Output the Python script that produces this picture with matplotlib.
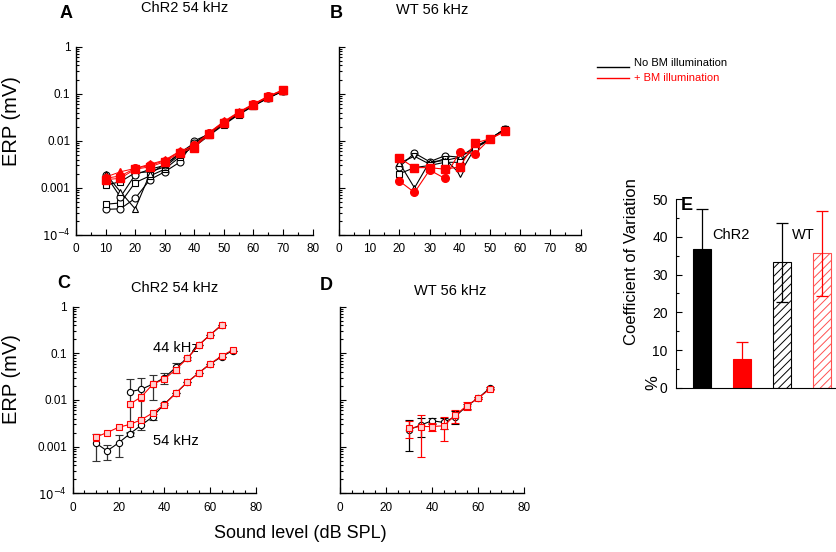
import matplotlib
matplotlib.use("Agg")
import matplotlib.pyplot as plt
import numpy as np
from matplotlib.ticker import FixedLocator, FixedFormatter, LogLocator, MultipleLocator, NullFormatter
from matplotlib.lines import Line2D

plt.rcParams['font.family'] = ['Liberation Sans', 'DejaVu Sans']
plt.rcParams['hatch.linewidth'] = 0.7

# ---------------- data ----------------
levels_A = [10, 15, 20, 25, 30, 35, 40, 45, 50, 55, 60, 65, 70]
a_blk_circ1 = [0.00035, 0.00036, 0.0006, 0.0015, 0.0022, 0.0035, 0.0100, 0.0140, 0.024, 0.038, 0.058, 0.083, 0.115]
a_blk_sq1 = [0.00045, 0.00048, 0.0013, 0.0018, 0.0025, 0.0045, 0.0080, 0.0135, 0.023, 0.037, 0.056, 0.082, 0.116]
a_blk_sq2 = [0.00115, 0.00135, 0.0021, 0.0022, 0.0028, 0.0050, 0.0075, 0.0130, 0.022, 0.036, 0.055, 0.081, 0.114]
a_blk_circ2 = [0.0019, 0.00064, 0.0019, 0.0025, 0.0030, 0.0055, 0.0090, 0.0145, 0.025, 0.039, 0.059, 0.085, 0.118]
a_blk_tri = [0.0020, 0.00083, 0.00036, 0.0020, 0.0032, 0.0052, 0.0085, 0.0140, 0.024, 0.038, 0.057, 0.084, 0.117]
a_red_circ = [0.0016, 0.0018, 0.0026, 0.0030, 0.0038, 0.0058, 0.0080, 0.015, 0.025, 0.040, 0.060, 0.088, 0.120]
a_red_sq = [0.0015, 0.0016, 0.0025, 0.0028, 0.0036, 0.0055, 0.0072, 0.014, 0.024, 0.039, 0.058, 0.086, 0.118]
a_red_tri = [0.0017, 0.0022, 0.0026, 0.0032, 0.0039, 0.0060, 0.0078, 0.015, 0.026, 0.041, 0.061, 0.089, 0.122]

levels_B = [20, 25, 30, 35, 40, 45, 50, 55]
b_blk_circ = [0.0028, 0.0055, 0.0036, 0.0048, 0.0045, 0.0070, 0.0110, 0.018]
b_blk_dtri = [0.0034, 0.0047, 0.0032, 0.0042, 0.0020, 0.0070, 0.0105, 0.018]
b_blk_utri = [0.0034, 0.0010, 0.0036, 0.0038, 0.0045, 0.0075, 0.0110, 0.018]
b_blk_sq = [0.0020, 0.0027, 0.0030, 0.0035, 0.0035, 0.0072, 0.0110, 0.018]
b_red_sq = [0.0043, 0.0027, 0.0027, 0.0025, 0.0028, 0.0090, 0.0110, 0.016]
b_red_circ = [0.0014, 0.0008, 0.0024, 0.0016, 0.0059, 0.0053, 0.0110, 0.016]

levels_C54 = [10, 15, 20, 25, 30, 35, 40, 45, 50, 55, 60, 65, 70]
c54_blk = [0.0012, 0.00081, 0.0012, 0.0019, 0.0029, 0.0044, 0.0082, 0.014, 0.024, 0.038, 0.059, 0.085, 0.115]
c54_blk_err = [0.0007, 0.0003, 0.0006, 0.0002, 0.0006, 0.0006, 0.0005, 0, 0, 0, 0, 0, 0]
c54_red = [0.0016, 0.0020, 0.0026, 0.0030, 0.0038, 0.0053, 0.0080, 0.014, 0.024, 0.038, 0.060, 0.088, 0.120]
c54_red_err = [0.0003, 0.0001, 0.0001, 0.0002, 0.0002, 0.0003, 0.0004, 0, 0, 0, 0, 0, 0]
levels_C44 = [25, 30, 35, 40, 45, 50, 55, 60, 65]
c44_blk = [0.015, 0.017, 0.022, 0.030, 0.050, 0.078, 0.150, 0.250, 0.400]
c44_blk_err = [0.013, 0.013, 0.012, 0.008, 0.012, 0.005, 0, 0, 0]
c44_red = [0.0082, 0.0117, 0.022, 0.028, 0.045, 0.078, 0.150, 0.250, 0.410]
c44_red_err = [0.001, 0.002, 0.003, 0.003, 0.004, 0.004, 0, 0, 0]

levels_D = [30, 35, 40, 45, 50, 55, 60, 65]
d_blk = [0.0023, 0.0029, 0.0036, 0.0033, 0.0044, 0.0074, 0.011, 0.018]
d_blk_err = [0.0015, 0.0013, 0.0006, 0.0009, 0.0013, 0.0010, 0.0004, 0.0008]
d_red = [0.0025, 0.0027, 0.0027, 0.0028, 0.0047, 0.0075, 0.011, 0.017]
d_red_err = [0.0010, 0.0021, 0.0005, 0.0015, 0.0015, 0.0014, 0.0005, 0.0005]

e_groups = ['ChR2 no BM', 'ChR2 + BM', 'WT no BM', 'WT + BM']
e_means = [36.7, 7.7, 33.3, 35.7]
e_err = [10.6, 4.3, 10.5, 11.3]

ytick_vals = [1e-4, 1e-3, 1e-2, 1e-1, 1]
ytick_labels = ['$10^{-4}$', '0.001', '0.01', '0.1', '1']

W, H = 837, 552
fig = plt.figure(figsize=(W / 100, H / 100), dpi=100)


def px_axes(l, t, r, b):
    return fig.add_axes([l / W, 1 - b / H, (r - l) / W, (b - t) / H])


def style_log(ax, xmax=80, xmajor=10, xminor=5, show_ylabels=True, narrow=False):
    ax.set_yscale('log')
    ax.set_ylim(1e-4, 1)
    ax.set_xlim(0, xmax)
    for s in ['top', 'right']:
        ax.spines[s].set_visible(False)
    for s in ['left', 'bottom']:
        ax.spines[s].set_linewidth(1.0)
    ax.yaxis.set_major_locator(FixedLocator(ytick_vals))
    if show_ylabels:
        ax.yaxis.set_major_formatter(FixedFormatter(ytick_labels))
    else:
        ax.yaxis.set_major_formatter(NullFormatter())
    ax.yaxis.set_minor_locator(LogLocator(base=10, subs=np.arange(2, 10)))
    ax.yaxis.set_minor_formatter(NullFormatter())
    ax.xaxis.set_major_locator(MultipleLocator(xmajor))
    ax.xaxis.set_minor_locator(MultipleLocator(xminor))
    ax.tick_params(which='both', direction='in', width=0.8)
    ax.tick_params(which='major', length=4, labelsize=8.5)
    ax.tick_params(axis='x', which='major', pad=6)
    ax.tick_params(axis='y', which='major', pad=4)
    ax.tick_params(which='minor', length=2)
    if narrow:
        for lab in ax.get_xticklabels() + ax.get_yticklabels():
            lab.set_fontfamily(['Liberation Sans Narrow', 'Liberation Sans'])


# ---------------- Panel A ----------------
axA = px_axes(76, 46.7, 312.6, 235)
style_log(axA)
blkA = [(a_blk_circ1, 'o'), (a_blk_sq1, 's'), (a_blk_sq2, 's'), (a_blk_circ2, 'o'), (a_blk_tri, '^')]
for vals, m in blkA:
    axA.plot(levels_A, vals, color='black', lw=0.8, marker=m, ms=5, mfc='white', mec='black', mew=0.8, zorder=2)
redA = [(a_red_sq, 's'), (a_red_tri, '^'), (a_red_circ, 'o')]
for vals, m in redA:
    axA.plot(levels_A, vals, color='red', lw=0.7, marker=m, ms=5.5, mfc='red', mec='red', zorder=3)

# ---------------- Panel B ----------------
axB = px_axes(339, 46.7, 580.6, 235)
style_log(axB, show_ylabels=False)
blkB = [(b_blk_circ, 'o'), (b_blk_dtri, 'v'), (b_blk_utri, '^'), (b_blk_sq, 's')]
for vals, m in blkB:
    axB.plot(levels_B, vals, color='black', lw=0.8, marker=m, ms=5, mfc='white', mec='black', mew=0.8, zorder=2)
redB = [(b_red_sq, 's'), (b_red_circ, 'o')]
for vals, m in redB:
    axB.plot(levels_B, vals, color='red', lw=0.8, marker=m, ms=5.5, mfc='red', mec='red', zorder=3)

# ---------------- Panel C ----------------
axC = px_axes(72.7, 306.7, 256, 493.3)
style_log(axC, xmajor=20, xminor=5, narrow=True)
axC.errorbar(levels_C54, c54_blk, yerr=c54_blk_err, color='black', lw=0.8, marker='o', ms=4.5,
             mfc='white', mec='black', mew=0.8, elinewidth=0.9, capsize=3, ecolor='#333333', zorder=2)
axC.errorbar(levels_C54, c54_red, yerr=c54_red_err, color='red', lw=0.8, marker='s', ms=4,
             mfc='#ffd0d0', mec='red', mew=0.8, elinewidth=0.8, capsize=2.5, zorder=3)
axC.errorbar(levels_C44, c44_blk, yerr=c44_blk_err, color='black', lw=0.8, marker='o', ms=4.5,
             mfc='white', mec='black', mew=0.8, elinewidth=0.9, capsize=3, ecolor='#333333', zorder=2)
axC.errorbar(levels_C44, c44_red, yerr=c44_red_err, color='red', lw=0.8, marker='s', ms=4,
             mfc='#ffd0d0', mec='red', mew=0.8, elinewidth=0.8, capsize=2.5, zorder=3)
axC.text(45, 0.13, '44 kHz', ha='center', va='center', fontsize=10.5)
axC.text(45, 0.0013, '54 kHz', ha='center', va='center', fontsize=10.5)

# ---------------- Panel D ----------------
axD = px_axes(340, 306.7, 524.3, 493.3)
style_log(axD, xmajor=20, xminor=5, show_ylabels=False, narrow=True)
axD.errorbar(levels_D, d_blk, yerr=d_blk_err, color='black', lw=0.8, marker='o', ms=4.5,
             mfc='white', mec='black', mew=0.8, elinewidth=0.9, capsize=3, zorder=2)
axD.errorbar(levels_D, d_red, yerr=d_red_err, color='red', lw=0.8, marker='s', ms=4,
             mfc='#ffd0d0', mec='red', mew=0.8, elinewidth=0.9, capsize=3, zorder=3)

# ---------------- Panel E ----------------
axE = px_axes(676, 199.3, 835, 387.7)
xE = np.arange(1, 5)
faces = ['black', 'red', 'white', 'white']
edges = ['black', 'red', 'black', '#ff5050']
hatches = [None, None, '////', '////']
errc = ['black', 'red', 'black', 'red']
for x, m, e, fc, ec, h, c in zip(xE, e_means, e_err, faces, edges, hatches, errc):
    axE.bar(x, m, width=0.46, color=fc, edgecolor=ec, hatch=h, linewidth=0.8, zorder=2)
    axE.errorbar(x, m, yerr=e, color=c, elinewidth=0.9, capsize=4, capthick=0.9, fmt='none', zorder=3)
axE.set_xlim(0.34, 4.33)
axE.set_ylim(0, 50)
for s in ['top', 'right']:
    axE.spines[s].set_visible(False)
axE.set_xticks([])
axE.yaxis.set_major_locator(MultipleLocator(10))
axE.yaxis.set_minor_locator(MultipleLocator(5))
axE.tick_params(axis='y', which='both', direction='in', width=0.8)
axE.tick_params(axis='y', which='major', length=4, labelsize=10, pad=6)
axE.tick_params(axis='y', which='minor', length=2)
axE.text(1.25, 40.5, 'ChR2', fontsize=10.5, ha='left', va='center')
axE.text(3.25, 40.5, 'WT', fontsize=10.5, ha='left', va='center')

# ---------------- figure texts ----------------
def ftext(x, y, s, **kw):
    fig.text(x / W, 1 - y / H, s, **kw)

ftext(66, 13, 'A', fontsize=13, fontweight='bold', ha='center', va='center')
ftext(185, 8, 'ChR2 54 kHz', fontsize=10.5, ha='center', va='center')
ftext(336, 14, 'B', fontsize=13, fontweight='bold', ha='center', va='center')
ftext(432, 10, 'WT 56 kHz', fontsize=10.5, ha='center', va='center')
ftext(64, 284, 'C', fontsize=13, fontweight='bold', ha='center', va='center')
ftext(175, 288, 'ChR2 54 kHz', fontsize=10.5, ha='center', va='center')
ftext(326, 286, 'D', fontsize=13, fontweight='bold', ha='center', va='center')
ftext(450, 291, 'WT 56 kHz', fontsize=10.5, ha='center', va='center')
ftext(687, 205, 'E', fontsize=13, fontweight='bold', ha='center', va='center')

ftext(12, 121, 'ERP (mV)', fontsize=14.5, rotation=90, ha='center', va='center')
ftext(12, 379, 'ERP (mV)', fontsize=14.5, rotation=90, ha='center', va='center')
ftext(300, 533, 'Sound level (dB SPL)', fontsize=13, ha='center', va='center')
ftext(632, 262, 'Coefficient of Variation', fontsize=12, rotation=90, ha='center', va='center')
ftext(653, 383, '%', fontsize=12, rotation=90, ha='center', va='center')

# legend
fig.add_artist(Line2D([597 / W, 629 / W], [1 - 66.7 / H, 1 - 66.7 / H], color='black', lw=1.0))
fig.add_artist(Line2D([597 / W, 629 / W], [1 - 78.3 / H, 1 - 78.3 / H], color='red', lw=1.0))
ftext(634, 63, 'No BM illumination', fontsize=8, ha='left', va='center')
ftext(634, 78, '+ BM illumination', fontsize=8, ha='left', va='center', color='red')

fig.savefig('out.png', dpi=100)
